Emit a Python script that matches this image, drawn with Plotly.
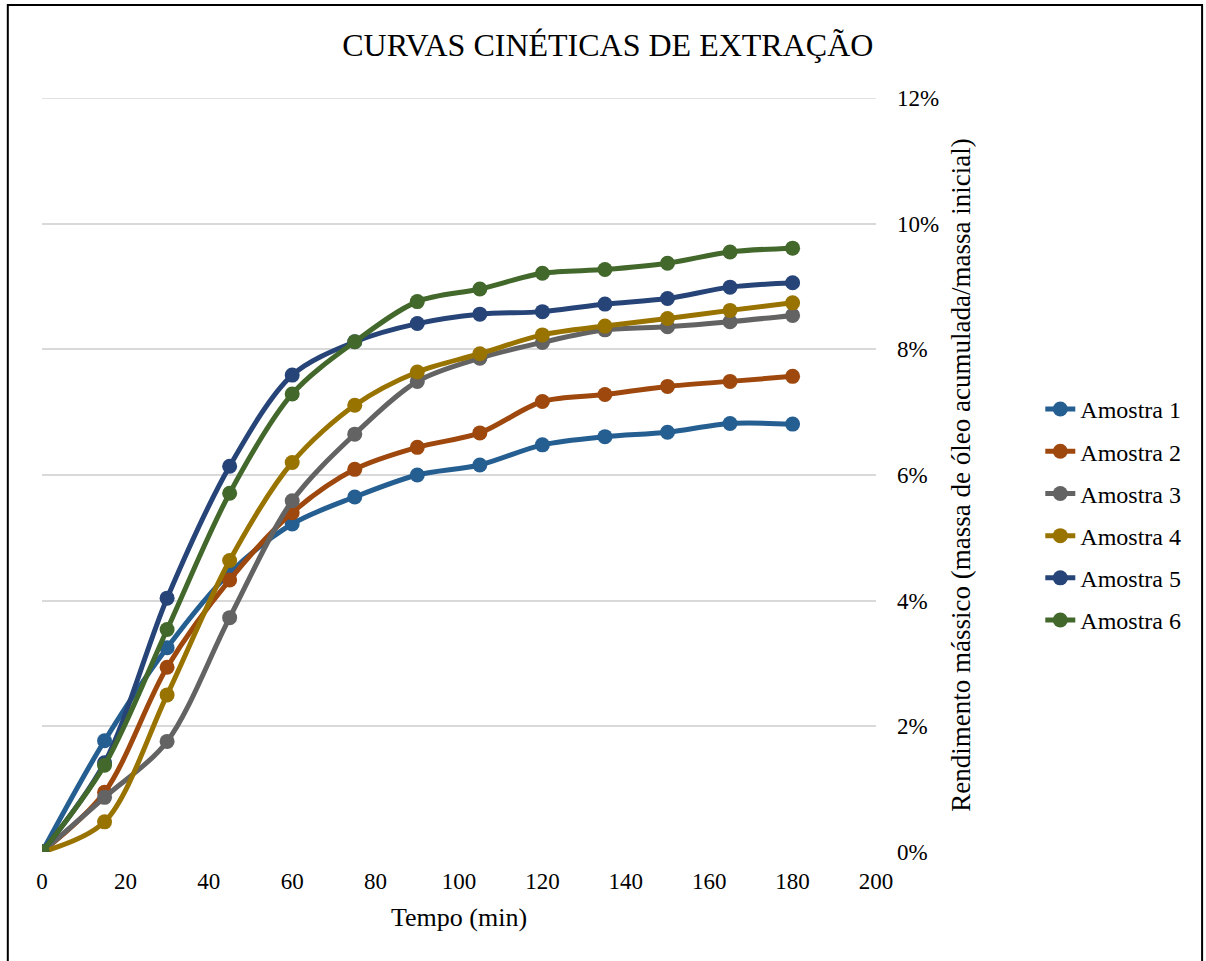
import plotly.graph_objects as go

# Extraction time (min)
tempo = [0, 15, 30, 45, 60, 75, 90, 105, 120, 135, 150, 165, 180]

# Cumulative mass yield (%) per sample
amostra_1 = [0, 1.77, 3.25, 4.44, 5.22, 5.65, 6.00, 6.16, 6.48, 6.61, 6.68, 6.82, 6.81]
amostra_2 = [0, 0.95, 2.94, 4.33, 5.40, 6.09, 6.44, 6.67, 7.17, 7.28, 7.41, 7.49, 7.57]
amostra_3 = [0, 0.87, 1.76, 3.73, 5.59, 6.65, 7.49, 7.86, 8.11, 8.31, 8.36, 8.44, 8.54]
amostra_4 = [0, 0.48, 2.50, 4.64, 6.20, 7.11, 7.64, 7.93, 8.23, 8.37, 8.49, 8.62, 8.74]
amostra_5 = [0, 1.42, 4.04, 6.14, 7.59, 8.12, 8.41, 8.56, 8.60, 8.72, 8.81, 8.99, 9.06]
amostra_6 = [0, 1.38, 3.54, 5.71, 7.29, 8.12, 8.76, 8.96, 9.21, 9.27, 9.37, 9.55, 9.61]

nomes = ["Amostra 1", "Amostra 2", "Amostra 3", "Amostra 4", "Amostra 5", "Amostra 6"]
series = [amostra_1, amostra_2, amostra_3, amostra_4, amostra_5, amostra_6]
cores = ["#255E91", "#9E480E", "#636363", "#997300", "#264478", "#43682B"]

y_ticks = [0, 2, 4, 6, 8, 10, 12]
y_labels = ["0%", "2%", "4%", "6%", "8%", "10%", "12%"]
x_ticks = list(range(0, 201, 20))

FONTE = "Liberation Serif, Times New Roman, serif"
GRADE = "#D9D9D9"

fig = go.Figure()
for nome, valores, cor in zip(nomes, series, cores):
    fig.add_trace(go.Scatter(
        x=tempo, y=valores, name=nome, legendgroup=nome,
        mode="lines+markers",
        line=dict(color=cor, width=5, shape="spline", smoothing=0.9),
        marker=dict(color=cor, size=15, symbol="circle"),
    ))

fig.update_layout(
    width=1206, height=961,
    margin=dict(l=42, r=330, t=98, b=109),
    paper_bgcolor="white", plot_bgcolor="white",
    font=dict(family=FONTE, size=23, color="black"),
    title=dict(text="CURVAS CINÉTICAS DE EXTRAÇÃO", x=0.504, xanchor="center",
               y=0.953, yanchor="middle",
               font=dict(family=FONTE, size=32, color="black")),
    showlegend=True,
    legend=dict(x=1.197, xanchor="left", y=0.447, yanchor="middle",
                font=dict(family=FONTE, size=24, color="black"),
                tracegroupgap=8, bgcolor="rgba(0,0,0,0)"),
    xaxis=dict(range=[0, 200], tickvals=x_ticks, showgrid=False, zeroline=False,
               showline=False, ticks="", ticklabelstandoff=13,
               tickfont=dict(size=23),
               title=dict(text="Tempo (min)", font=dict(size=26), standoff=14)),
    yaxis=dict(range=[0, 12], tickvals=y_ticks, ticktext=y_labels, side="right",
               showgrid=True, gridcolor=GRADE, gridwidth=1.5, zeroline=False,
               showline=False, ticks="", ticklabelstandoff=20,
               tickfont=dict(size=23),
               title=dict(text="Rendimento mássico (massa de óleo acumulada/massa inicial)",
                          font=dict(size=27), standoff=12)),
    shapes=[
        # top gridline at the upper edge of the value axis
        dict(type="line", xref="paper", yref="y", x0=0, x1=1, y0=12, y1=12,
             line=dict(color=GRADE, width=1.5), layer="below"),
        # chart frame
        dict(type="rect", xref="paper", yref="paper",
             x0=-0.041, x1=1.391, y0=-0.16, y1=1.1233,
             line=dict(color="black", width=2), layer="below"),
    ],
)

fig.write_html("out.html")
